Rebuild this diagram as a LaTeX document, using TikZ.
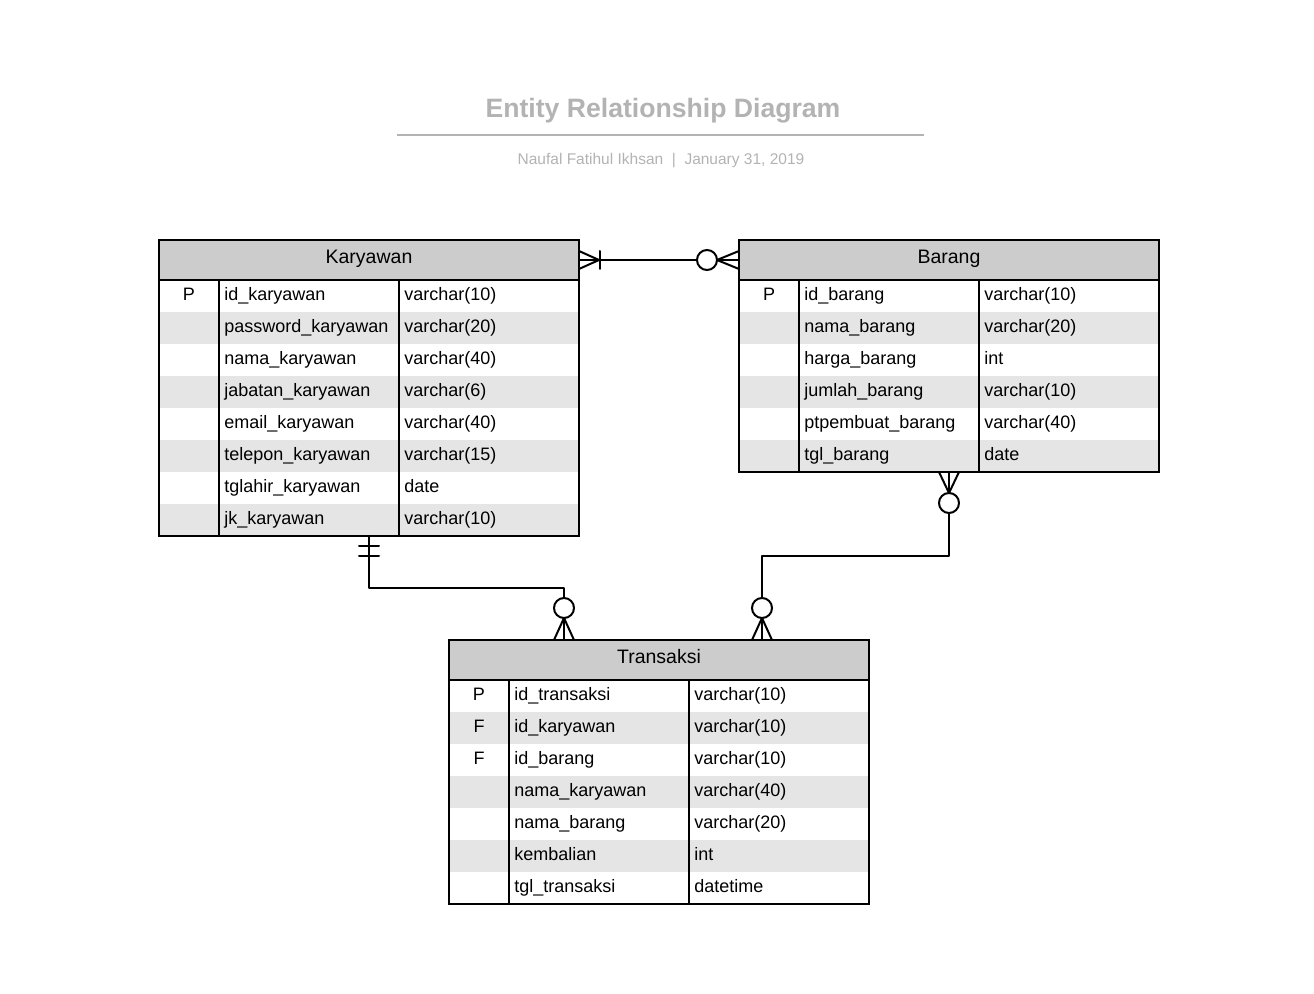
\documentclass[tikz,border=0pt]{standalone}
\usepackage{fontspec}
\setmainfont{Liberation Sans}
\usetikzlibrary{calc}
\definecolor{hdr}{HTML}{CCCCCC}
\definecolor{alt}{HTML}{E5E5E5}
\definecolor{ttl}{HTML}{B3B3B3}
\tikzset{
  cell/.style={inner sep=0pt, text height=6.4pt, text depth=0pt, font=\fontsize{9}{11}\selectfont},
  conn/.style={line width=1pt, line cap=round, line join=round},
  ring/.style={line width=1pt, fill=white},
}
\newcommand{\ertable}[6]{%
\begin{scope}[shift={(#2,#3)}]
\foreach \k/\n/\t [count=\i] in {#6}{%
  \ifodd\i\relax\else \fill[alt] (0,{40+32*(\i-1)}) rectangle (420,{40+32*\i});\fi
  \node[cell, anchor=center] (#1-k\i) at (30,{40+32*\i-18}) {\k};
  \node[cell, anchor=west] (#1-n\i) at (65,{40+32*\i-18}) {\n};
  \node[cell, anchor=west] (#1-t\i) at (245,{40+32*\i-18}) {\t};
}
\node[draw, fill=hdr, line width=1pt, inner sep=0pt, outer sep=0pt, minimum width=210pt, minimum height=20pt,
  text height=6.9pt, text depth=0pt, font=\fontsize{9.75}{12}\selectfont, anchor=north west] (#1H) at (0,0) {\raisebox{1.5pt}{#4}};
\draw[line width=1pt] (60,40) -- (60,{40+32*#5}) (240,40) -- (240,{40+32*#5});
\node[draw, line width=1pt, inner sep=0pt, outer sep=0pt, minimum width=210pt, minimum height={20pt+16pt*#5}, anchor=north west] (#1) at (0,0) {};
\end{scope}}
\begin{document}
\begin{tikzpicture}[x=0.5pt, y=-0.5pt]
\useasboundingbox (0,0) rectangle (1314,994);
\fill[white] (0,0) rectangle (1314,994);
% title
\node[text=ttl, font=\bfseries\fontsize{13.3}{16}\selectfont] (title) at (663,111) {Entity Relationship Diagram};
\draw[ttl, line width=1pt] (397,135) -- (924,135);
\node[text=ttl, font=\fontsize{7.75}{9}\selectfont] (subtitle) at (661,161) {Naufal Fatihul Ikhsan~~|~~January 31, 2019};
% tables
\ertable{kary}{159}{240}{Karyawan}{8}{P/id\_karyawan/varchar(10), /password\_karyawan/varchar(20), /nama\_karyawan/varchar(40), /jabatan\_karyawan/varchar(6), /email\_karyawan/varchar(40), /telepon\_karyawan/varchar(15), /tglahir\_karyawan/date, /jk\_karyawan/varchar(10)}
\ertable{bar}{739}{240}{Barang}{6}{P/id\_barang/varchar(10), /nama\_barang/varchar(20), /harga\_barang/int, /jumlah\_barang/varchar(10), /ptpembuat\_barang/varchar(40), /tgl\_barang/date}
\ertable{tran}{449}{640}{Transaksi}{7}{P/id\_transaksi/varchar(10), F/id\_karyawan/varchar(10), F/id\_barang/varchar(10), /nama\_karyawan/varchar(40), /nama\_barang/varchar(20), /kembalian/int, /tgl\_transaksi/datetime}
\coordinate (t1) at ($(tranH.north west)+(115,0)$);
\coordinate (t2) at ($(tranH.north west)+(313,0)$);
% connector Karyawan - Barang
\draw[conn] (karyH.east) -- (barH.west);
\draw[conn] ($(karyH.east)+(0,-9)$) -- ($(karyH.east)+(20,0)$) -- ($(karyH.east)+(0,9)$);
\draw[conn] ($(karyH.east)+(21,-9)$) -- ($(karyH.east)+(21,9)$);
\draw[conn] ($(barH.west)+(0,-9)$) -- ($(barH.west)+(-22,0)$) -- ($(barH.west)+(0,9)$);
\draw[ring] ($(barH.west)+(-32,0)$) circle[radius=5pt];
% connector Karyawan - Transaksi
\draw[conn] (kary.south) -- ++(0,52) -| (t1);
\draw[conn] ($(kary.south)+(-10,10)$) -- ++(20,0) ($(kary.south)+(-10,20)$) -- ++(20,0);
\draw[conn] ($(t1)+(-10,0)$) -- ($(t1)+(0,-22)$) -- ($(t1)+(10,0)$);
\draw[ring] ($(t1)+(0,-32)$) circle[radius=5pt];
% connector Barang - Transaksi
\draw[conn] (bar.south) -- ++(0,84) -| (t2);
\draw[conn] ($(bar.south)+(-10,0)$) -- ($(bar.south)+(0,21)$) -- ($(bar.south)+(10,0)$);
\draw[ring] ($(bar.south)+(0,31)$) circle[radius=5pt];
\draw[conn] ($(t2)+(-10,0)$) -- ($(t2)+(0,-22)$) -- ($(t2)+(10,0)$);
\draw[ring] ($(t2)+(0,-32)$) circle[radius=5pt];
\end{tikzpicture}
\end{document}
